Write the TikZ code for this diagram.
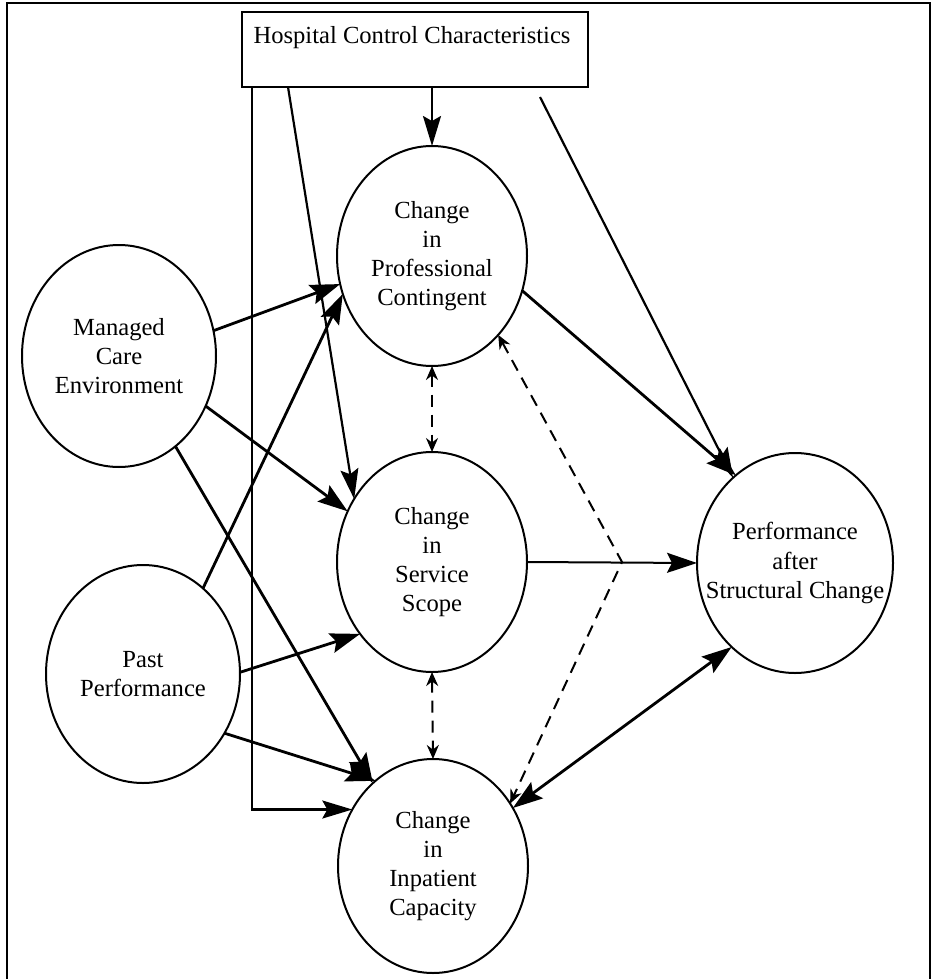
\documentclass[tikz,border=0pt]{standalone}
\usepackage{fontspec}
\setmainfont{Liberation Serif}
\usetikzlibrary{arrows.meta,shapes.geometric}
\begin{document}
\begin{tikzpicture}[x=0.5pt,y=-0.5pt,
  ell/.style={ellipse,draw,line width=1pt,inner sep=0pt,outer sep=0pt},
  lbl/.style={align=center,font=\fontsize{12.3}{14.6}\selectfont,inner sep=0pt},
  big/.style={line width=1.4pt,-{Stealth[length=15pt,width=10pt,inset=2.5pt]}},
  bigboth/.style={line width=1.4pt,{Stealth[length=15pt,width=10pt,inset=2.5pt]}-{Stealth[length=15pt,width=10pt,inset=2.5pt]}},
  hosp/.style={line width=1.1pt,-{Stealth[length=15pt,width=9pt,inset=2.5pt]}},
  mid/.style={line width=1pt,-{Stealth[length=15pt,width=10pt,inset=2.5pt]}},
  dsh/.style={line width=1pt,dash pattern=on 6pt off 4pt,{Stealth[length=7pt,width=6pt]}-{Stealth[length=7pt,width=6pt]}}
]
\useasboundingbox (0,0) rectangle (934,979);
% outer frame
\draw[line width=0.8pt] (7,979) -- (7,3) -- (930,3) -- (930,979);

% hospital box
\node[draw,line width=1.1pt,minimum width=173pt,minimum height=37.5pt,inner sep=0pt,outer sep=0pt] (hcc) at (415,49.5) {};
\node[lbl] (hcct) at (412,38) {Hospital Control Characteristics};

% ellipses
\node[ell,minimum width=95pt,minimum height=110pt] (prof) at (432,256) {};
\node[lbl] (proft) at (prof) {Change\\in\\Professional\\Contingent};
\node[ell,minimum width=95pt,minimum height=110pt] (serv) at (432,562) {};
\node[lbl] (servt) at (serv) {Change\\in\\Service\\Scope};
\node[ell,minimum width=95pt,minimum height=107pt] (inp) at (433,866) {};
\node[lbl] (inpt) at (inp) {Change\\in\\Inpatient\\Capacity};
\node[ell,minimum width=97pt,minimum height=111pt] (mce) at (119,356) {};
\node[lbl] (mcet) at (mce) {Managed\\Care\\Environment};
\node[ell,minimum width=97pt,minimum height=109pt] (past) at (143,674) {};
\node[lbl] (pastt) at (past) {Past\\Performance};
\node[ell,minimum width=98pt,minimum height=110pt] (perf) at (795,563) {};
\node[lbl] (perft) at (perf) {Performance\\after\\Structural Change};

% hospital connectors
\draw[hosp] ([xshift=5pt]hcc.south west) |- (inp.145);
\draw[hosp] ([xshift=23pt]hcc.south west) -- (serv.141);
\draw[hosp] (hcc.south -| prof.north) -- (prof.north);
\draw[hosp] ([xshift=-24pt,yshift=-5pt]hcc.south east) -- (perf.126);

% solid connectors
\draw[big] (mce.15) -- (prof.197);
\draw[big] (past.55) -- (prof.203);
\draw[big] (mce.-30) -- (serv.149);
\draw[big] (mce.-58) -- (inp.126);
\draw[big] (past.1) -- (serv.225);
\draw[big] (past.-36) -- (inp.124);
\draw[big] (prof.-21) -- (perf.124);
\draw[mid] (serv.east) -- (perf.west);
\draw[bigboth] (inp.36) -- (perf.233);

% dashed connectors
\coordinate (bend) at (622,562);
\draw[dsh] (prof.south) -- (serv.north);
\draw[dsh] (serv.south) -- (inp.north);
\draw[dsh] (prof.-50) -- (bend) -- (inp.39);
\end{tikzpicture}
\end{document}
